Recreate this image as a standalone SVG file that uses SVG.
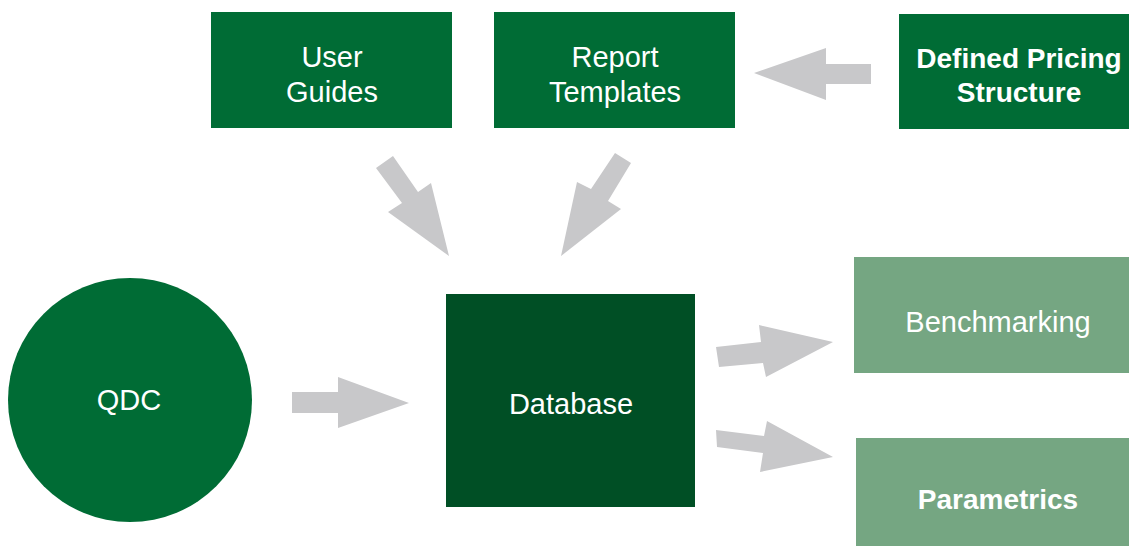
<svg xmlns="http://www.w3.org/2000/svg" width="1129" height="546" viewBox="0 0 1129 546">
<style>
.dark{fill:#006C35}
.db{fill:#004F25}
.light{fill:#75A682}
.arrow{fill:#C8C8CA}
text{font-family:"Liberation Sans",Arial,Helvetica,sans-serif;font-size:29px;fill:#FFFFFF;text-anchor:middle}
.b{font-weight:bold;font-size:28px}
</style>
<rect width="1129" height="546" fill="#FFFFFF"/>
<g id="connectors">
<polygon class="arrow" points="871,64 826,64 826,48 754,73 826,100 826,84 871,84"/>
<polygon class="arrow" points="376,168 393,156 418,192 431,183 449,256 388,212 402,203"/>
<polygon class="arrow" points="631,163 615,153 591,189 577,182 561,256 621,209 608,201"/>
<polygon class="arrow" points="292,392 338,392 338,377 409,403 338,428 338,413 292,413"/>
<polygon class="arrow" points="716,347 761,342 759,325 833,342 766,377 763,363 719,367"/>
<polygon class="arrow" points="716,430 764,436 767,421 833,457 760,472 763,453 717,447"/>
</g>
<g id="user-guides">
<rect class="dark" x="211" y="12" width="241" height="116"/>
<text x="332" y="67">User</text>
<text x="332" y="102">Guides</text>
</g>
<g id="report-templates">
<rect class="dark" x="494" y="12" width="241" height="116"/>
<text x="615" y="67">Report</text>
<text x="615" y="102">Templates</text>
</g>
<g id="defined-pricing">
<rect class="dark" x="899" y="14" width="240" height="115"/>
<text class="b" x="1019" y="68">Defined Pricing</text>
<text class="b" x="1019" y="102">Structure</text>
</g>
<g id="qdc">
<circle class="dark" cx="130" cy="400" r="122"/>
<text x="129" y="410">QDC</text>
</g>
<g id="database">
<rect class="db" x="446" y="294" width="249" height="213"/>
<text x="571" y="414">Database</text>
</g>
<g id="benchmarking">
<rect class="light" x="854" y="257" width="285" height="116"/>
<text x="998" y="332">Benchmarking</text>
</g>
<g id="parametrics">
<rect class="light" x="856" y="438" width="283" height="108"/>
<text class="b" x="998" y="509">Parametrics</text>
</g>
</svg>
